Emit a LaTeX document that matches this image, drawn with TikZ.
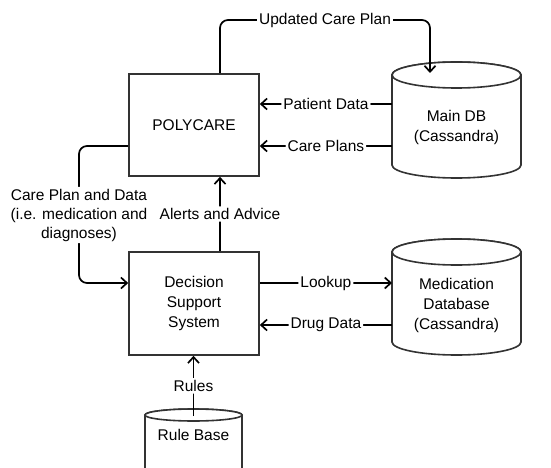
\documentclass[tikz,border=0pt]{standalone}
\usepackage{fontspec}
\setmainfont{Liberation Sans}
\usetikzlibrary{arrows.meta}
\begin{document}
\begin{tikzpicture}[x=1pt,y=1pt,
  box/.style={draw=black!80, line width=1.6pt, fill=white, minimum width=130pt, minimum height=102pt, align=center, inner sep=0pt, font=\fontsize{15.5}{20}\selectfont},
  lbl/.style={fill=white, inner sep=2pt, font=\fontsize{15.5}{19}\selectfont, align=center},
  conn/.style={draw=black, line width=1.7pt, rounded corners=8pt},
  arr/.style={-{Straight Barb[length=6pt,width=11pt]}},
  dbline/.style={draw=black!80, line width=1.6pt, fill=white},
  txt/.style={font=\fontsize{15.5}{20}\selectfont, align=center}
]
\useasboundingbox (0,0) rectangle (551,-468);
% boxes
\node[box] (poly) at (194,-125) {POLYCARE};
\node[box, minimum height=103pt] (dss) at (194,-303.5) {Decision\\Support\\System};
% Main DB cylinder
\draw[dbline] (392,-75) -- (392,-165) arc[start angle=180,end angle=360,x radius=64.5,y radius=13] -- (521,-75) arc[start angle=0,end angle=180,x radius=64.5,y radius=13] -- cycle;
\draw[dbline] (456.5,-75) ellipse [x radius=64.5,y radius=13];
\node[txt] (maindb) at (456.5,-127) {Main DB\\(Cassandra)};
% Medication DB cylinder
\draw[dbline] (392,-252) -- (392,-342) arc[start angle=180,end angle=360,x radius=64.5,y radius=13] -- (521,-252) arc[start angle=0,end angle=180,x radius=64.5,y radius=13] -- cycle;
\draw[dbline] (456.5,-252) ellipse [x radius=64.5,y radius=13];
\node[txt] (meddb) at (456.5,-305) {Medication\\Database\\(Cassandra)};
% Rule base cylinder
\draw[dbline] (145,-415) -- (145,-490) -- (242,-490) -- (242,-415) arc[start angle=0,end angle=180,x radius=48.5,y radius=6] -- cycle;
\draw[dbline] (193.5,-415) ellipse [x radius=48.5,y radius=6];
\node[txt] (rulebase) at (193.5,-435) {Rule Base};
% connector end points on cylinders
\coordinate (ucpEnd) at (430,-73);
\coordinate (mdbPD) at (392,-104);
\coordinate (mdbCP) at (392,-146);
\coordinate (medLk) at (392,-283);
\coordinate (medDD) at (392,-325);
\coordinate (rbTop) at (193.5,-416);
% connectors
\draw[conn,arr] ([xshift=26pt]poly.north) |- (325,-20) node[lbl]{Updated Care Plan} -| (ucpEnd);
\draw[conn,arr] (mdbPD) -- node[lbl]{Patient Data} (poly.east |- mdbPD);
\draw[conn,arr] (mdbCP) -- node[lbl]{Care Plans} (poly.east |- mdbCP);
\draw[conn,arr] ([yshift=-21pt]poly.west) -| (79,-215) node[lbl]{Care Plan and Data\\(i.e. medication and\\diagnoses)} |- ([yshift=20.5pt]dss.west);
\draw[conn,arr] ([xshift=26pt]dss.north) -- node[lbl]{Alerts and Advice} ([xshift=26pt]poly.south);
\draw[conn,arr] (dss.east |- medLk) -- node[lbl]{Lookup} (medLk);
\draw[conn,arr] (medDD) -- node[lbl]{Drug Data} (dss.east |- medDD);
\draw[conn,arr] (rbTop) -- node[lbl]{Rules} (dss.south -| rbTop);
\end{tikzpicture}
\end{document}
